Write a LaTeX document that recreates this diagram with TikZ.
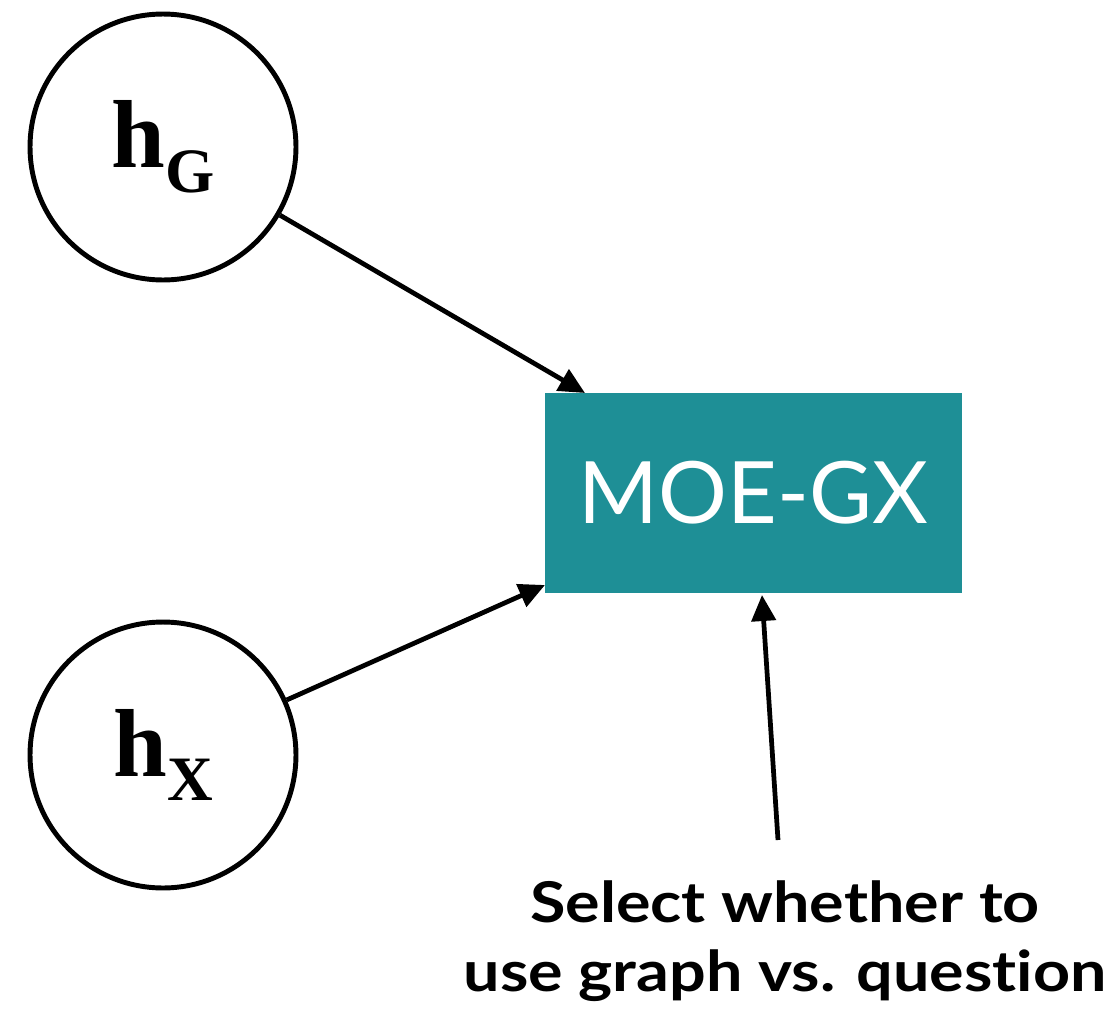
\documentclass[tikz,border=0pt]{standalone}
\usepackage{fontspec}
\setmainfont{Liberation Serif}
\newfontfamily\labelfont[Ligatures=NoCommon]{Lato}
\newfontfamily\selfont[Ligatures=NoCommon, FakeStretch=1.15]{Lato}
\usetikzlibrary{arrows.meta}
\definecolor{moeteal}{HTML}{1E8F96}
\newcommand{\hlabel}[1]{h\raisebox{-14pt}{\fontsize{36}{40}\selectfont #1}}

\begin{document}
\begin{tikzpicture}[
        x=0.02cm, y=-0.02cm,
        roundnode/.style={circle, draw=black, line width=2.8pt, minimum size=5.32cm, inner sep=0pt,
                font=\bfseries\fontsize{55}{60}\selectfont},
        boxnode/.style={rectangle, fill=moeteal, minimum width=8.34cm, minimum height=4cm,
                text=white, font=\labelfont\fontsize{49}{58}\selectfont},
        arrow/.style={-{Triangle[length=0.52cm,width=0.48cm]}, line width=2.7pt}
        ]
        \useasboundingbox (0,0) rectangle (1116,1011);
        \node[roundnode]            (h_g)   at (163,147)    {\hlabel{G}};
        \node[roundnode]            (h_x)   at (163,755)    {\hlabel{X}};
        \node[boxnode]              (moe)   at (753.5,493)  {MOE-GX};
        \coordinate                 (in_g)  at (585,393);
        \coordinate                 (in_x)  at (545,585);
        \coordinate                 (in_s)  at (762,595);
        \coordinate                 (sel_top) at (778,840);
        \node[font=\selfont\bfseries\fontsize{32}{39}\selectfont, align=center]
                                    (sel)   at (785,941)    {Select whether to\\use graph vs. question};
        \draw[arrow] (h_g) -- (in_g);
        \draw[arrow] (h_x) -- (in_x);
        \draw[arrow] (sel_top) -- (in_s);
\end{tikzpicture}
\end{document}
